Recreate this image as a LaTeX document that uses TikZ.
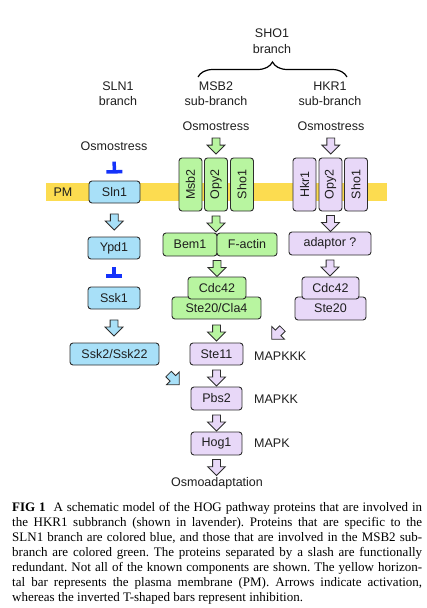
\documentclass[tikz,border=0pt]{standalone}
\usepackage{fontspec}
\setmainfont{Liberation Serif}
\newfontfamily\helv{Liberation Sans}
\usepackage{graphicx}
\usetikzlibrary{calc,shapes.arrows,arrows.meta,decorations.pathreplacing}
\definecolor{slnblue}{RGB}{168,224,248}
\definecolor{msbgreen}{RGB}{184,245,160}
\definecolor{hkrlav}{RGB}{232,216,248}
\definecolor{pmyellow}{RGB}{252,220,80}
\definecolor{inhblue}{RGB}{20,50,250}
\definecolor{edge}{RGB}{45,45,45}
\definecolor{txt}{RGB}{30,30,30}
\frenchspacing
\begin{document}
\begin{tikzpicture}[x=1pt, y=1pt,
		every node/.style={text=txt, inner sep=0pt, font=\helv\fontsize{12.5}{15}\selectfont},
		prot/.style={draw=edge, fill=#1, line width=0.9pt, rounded corners=3pt},
		barrow/.style={single arrow, fill=#1, draw=edge, line width=0.8pt, minimum height=16pt,
			inner xsep=0pt, inner ysep=3.5pt, single arrow head extend=5pt, rotate=-90},
		inhib/.style={inhblue, line width=3.5pt, -{Bar[width=16pt]}}]
			\useasboundingbox (0,0) rectangle (427,-608);
			\fill[pmyellow] (46,-183) rectangle (387,-201);
			\node (pm) at (63,-192) {PM};
			\node[align=center] (sho1lbl) at (272,-41) {SHO1\\[1pt]branch};
			\draw[line width=1.2pt, decorate, decoration={brace, amplitude=15pt}] (198,-77) -- (347,-77);
			\node[align=center] (sln1lbl) at (118,-94) {SLN1\\branch};
			\node[align=center] (msb2lbl) at (216,-94) {MSB2\\sub-branch};
			\node[align=center] (hkr1lbl) at (330,-94) {HKR1\\sub-branch};
			\node (osmo1) at (114,-146) {Osmostress};
			\node (osmo2) at (216,-126) {Osmostress};
			\node (osmo3) at (331,-126) {Osmostress};
			\node[prot=slnblue, minimum width=51pt, minimum height=22pt] (sln1) at (114.5,-192) {Sln1};
			\node[prot=slnblue, minimum width=52pt, minimum height=22pt] (ypd1) at (114,-248) {Ypd1};
			\node[prot=slnblue, minimum width=52pt, minimum height=22pt] (ssk1) at (114,-298) {Ssk1};
			\node[prot=slnblue, minimum width=89pt, minimum height=22pt] (ssk2) at (114.5,-354) {Ssk2/Ssk22};
			\foreach \n/\t/\x in {msb2/Msb2/190.5, opy2a/Opy2/216, sho1a/Sho1/242}
				\node[prot=msbgreen, minimum width=23pt, minimum height=53pt] (\n) at (\x,-184.5) {\rotatebox{90}{\t}};
			\foreach \n/\t/\x in {hkr1/Hkr1/304.5, opy2b/Opy2/330.5, sho1b/Sho1/356}
				\node[prot=hkrlav, minimum width=23pt, minimum height=53pt] (\n) at (\x,-184.5) {\rotatebox{90}{\t}};
			\node[prot=msbgreen, minimum width=54pt, minimum height=23pt] (bem1) at (190,-244.5) {Bem1};
			\node[prot=msbgreen, minimum width=60pt, minimum height=23pt] (factin) at (247,-244.5) {F-actin};
			\node[prot=msbgreen, minimum width=89pt, minimum height=22pt] (ste20g) at (216.5,-308) {Ste20/Cla4};
			\node[prot=msbgreen, minimum width=58pt, minimum height=22pt] (cdc42g) at (217,-288) {Cdc42};
			\node[prot=hkrlav, minimum width=82pt, minimum height=23pt] (adaptor) at (330,-243.5) {adaptor ?};
			\node[prot=hkrlav, minimum width=71pt, minimum height=23pt] (ste20l) at (330.5,-308.5) {Ste20};
			\node[prot=hkrlav, minimum width=57pt, minimum height=22pt] (cdc42l) at (330.5,-288) {Cdc42};
			\node[prot=hkrlav, minimum width=53pt, minimum height=22pt] (ste11) at (216.5,-354) {Ste11};
			\node[prot=hkrlav, minimum width=51pt, minimum height=23pt] (pbs2) at (216.5,-398.5) {Pbs2};
			\node[prot=hkrlav, minimum width=51pt, minimum height=23pt] (hog1) at (216.5,-443.5) {Hog1};
			\node[anchor=west] (mapkkk) at (254,-356) {MAPKKK};
			\node[anchor=west] (mapkk) at (254,-399) {MAPKK};
			\node[anchor=west] (mapk) at (254,-443) {MAPK};
			\node[anchor=base, inner sep=1pt] (osmoad) at (217,-486) {Osmoadaptation};
			\draw[inhib, shorten <=11pt, shorten >=7pt] (osmo1.south) -- (sln1.north);
			\draw[inhib, shorten <=8pt, shorten >=9pt] (ypd1.south) -- (ssk1.north);
			\node[barrow=slnblue] (a1) at ($(sln1.south)!.5!(ypd1.north)$) {};
			\node[barrow=slnblue] (a2) at ($(ssk1.south)!.5!(ssk1.south |- ssk2.north)$) {};
			\node[barrow=msbgreen] (a3) at ($(osmo2.south)!.5!(opy2a.north)$) {};
			\node[barrow=msbgreen] (a4) at ($(opy2a.south)!.5!(opy2a.south |- bem1.north)$) {};
			\node[barrow=msbgreen] (a5) at ($(cdc42g.north)!.5!(cdc42g.north |- bem1.south)$) {};
			\node[barrow=msbgreen] (a6) at ($(ste20g.south)!.5!(ste11.north)$) {};
			\node[barrow=hkrlav] (a7) at ($(osmo3.south)!.5!(opy2b.north)$) {};
			\node[barrow=hkrlav] (a8) at ($(opy2b.south)!.5!(opy2b.south |- adaptor.north)$) {};
			\node[barrow=hkrlav] (a9) at ($(adaptor.south)!.5!(adaptor.south |- cdc42l.north)$) {};
			\node[barrow=hkrlav] (a10) at ($(ste11.south)!.5!(pbs2.north)$) {};
			\node[barrow=hkrlav] (a11) at ($(pbs2.south)!.5!(hog1.north)$) {};
			\node[barrow=hkrlav] (a12) at ($(hog1.south)!.5!(hog1.south |- osmoad.north)$) {};
			\node[barrow=hkrlav, rotate=-45, minimum height=15pt] (a13) at (278.5,-332.5) {};
			\node[barrow=slnblue, rotate=45, minimum height=15pt] (a14) at (172.5,-378) {};
			\node[anchor=north west, text width=410pt, align=justify, text=black,
				font=\rmfamily\fontsize{13}{15}\selectfont] (caption) at (12,-502)
				{\textbf{FIG 1}\ \ A schematic model of the HOG pathway proteins that are involved in\linebreak
				the HKR1 subbranch (shown in lavender). Proteins that are specific to the\linebreak
				SLN1 branch are colored blue, and those that are involved in the MSB2 sub-\linebreak
				branch are colored green. The proteins separated by a slash are functionally\linebreak
				redundant. Not all of the known components are shown. The yellow horizon-\linebreak
				tal bar represents the plasma membrane (PM). Arrows indicate activation,\linebreak
				whereas the inverted T-shaped bars represent inhibition.};
\end{tikzpicture}
\end{document}
